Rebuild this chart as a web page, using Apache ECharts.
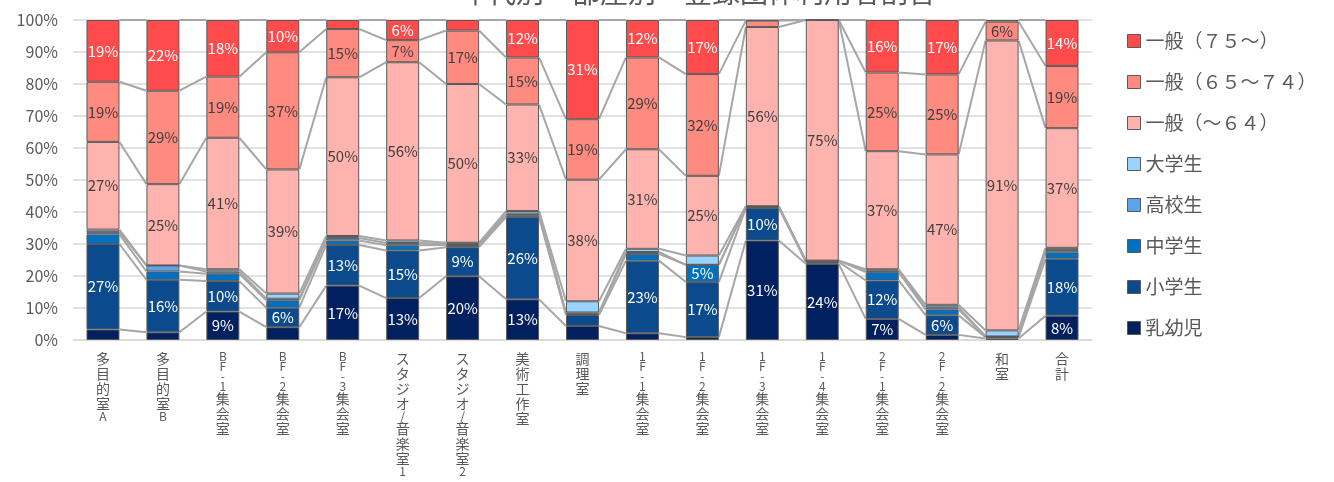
<!DOCTYPE html>
<html>
<head>
<meta charset="utf-8">
<script src="https://cdn.jsdelivr.net/npm/echarts@6/dist/echarts.min.js"></script>
<style>
  html, body { margin: 0; padding: 0; background: #fff; }
  #chart { width: 1334px; height: 482px; }
</style>
</head>
<body>
<div id="chart"></div>
<script>
const categories = ['多目的室A', '多目的室B', 'BF-1集会室', 'BF-2集会室', 'BF-3集会室', 'スタジオ/音楽室1', 'スタジオ/音楽室2', '美術工作室', '調理室', '1F-1集会室', '1F-2集会室', '1F-3集会室', '1F-4集会室', '2F-1集会室', '2F-2集会室', '和室', '合計']

const seriesNames = ['乳幼児', '小学生', '中学生', '高校生', '大学生', '一般（～６４）', '一般（６５～７４）', '一般（７５～）']

// percent per room, bottom of stack first
const infant = [3.3, 2.4, 8.9, 4.0, 17.0, 13.1, 19.9, 12.7, 4.4, 2.1, 0.9, 31.1, 23.8, 6.6, 1.6, 0.5, 7.6]
const elementary = [26.7, 16.4, 9.5, 6.1, 12.7, 14.9, 9.1, 25.7, 3.4, 22.7, 17.2, 10.2, 0.6, 12.0, 6.1, 0.4, 17.8]
const juniorHigh = [3.0, 2.6, 2.3, 2.3, 1.4, 1.6, 0.7, 0.6, 0.4, 2.1, 5.4, 0.3, 0.4, 2.6, 1.8, 0.2, 2.0]
const highSchool = [0.7, 1.9, 0.7, 0.5, 0.8, 0.7, 0.4, 0.5, 0.4, 0.6, 0, 0.1, 0, 0.5, 0.7, 0, 0.7]
const university = [0.8, 0, 0.7, 1.6, 0.6, 0.8, 0.3, 0.8, 3.5, 1.0, 2.9, 0.1, 0, 0.4, 0.8, 1.9, 0.7]
const generalU64 = [27.4, 25.4, 41.1, 38.8, 49.6, 55.7, 49.6, 33.3, 38.0, 31.1, 24.9, 56.0, 75.2, 36.9, 47.0, 90.6, 37.4]
const general6574 = [18.8, 29.2, 19.1, 36.6, 15.1, 6.9, 16.7, 14.7, 18.9, 28.7, 31.8, 2.0, 0, 24.6, 25.0, 5.9, 19.4]
const general75 = [19.3, 22.1, 17.7, 10.1, 2.8, 6.3, 3.3, 11.7, 31.0, 11.7, 16.9, 0.2, 0, 16.4, 17.0, 0.5, 14.4]

const seriesValues = [infant, elementary, juniorHigh, highSchool, university, generalU64, general6574, general75]
const colors = ['#002060', '#0b4a8c', '#0070c0', '#5aa5eb', '#99d3ff', '#ffb3ae', '#ff8a80', '#ff4b4b']
const labelColors = ['#fff', '#fff', '#fff', '#fff', '#404040', '#404040', '#404040', '#fff']
const yTicks = [0, 10, 20, 30, 40, 50, 60, 70, 80, 90, 100]

const font = '"Noto Sans CJK JP", "Noto Sans", sans-serif'
const barRatio = 0.55

// stack the label characters vertically, latin ones tighter
function verticalLabel (name) {
  return name.split('').map(ch => /[A-Za-z0-9\-\/]/.test(ch) ? '{l|' + ch + '}' : '{c|' + ch + '}').join('\n')
}

// gray series lines between neighbouring bars
function renderLinks (params, api) {
  const i = api.value(0)
  const half = api.size([1, 0])[0] * barRatio / 2
  const children = []
  let a = 0
  let b = 0
  seriesValues.forEach(vals => {
    a += vals[i]
    b += vals[i + 1]
    const p1 = api.coord([i, a])
    const p2 = api.coord([i + 1, b])
    children.push({
      type: 'line',
      shape: { x1: p1[0] + half, y1: p1[1], x2: p2[0] - half, y2: p2[1] },
      style: { stroke: '#a6a6a6', lineWidth: 2 }
    })
  })
  return { type: 'group', children }
}

const chart = echarts.init(document.getElementById('chart'))

const barSeries = seriesNames.map((name, k) => ({
  name: name,
  type: 'bar',
  stack: 'total',
  barWidth: (barRatio * 100) + '%',
  itemStyle: {
    color: colors[k],
    borderColor: '#5a5a5a',
    borderWidth: 1
  },
  label: {
    show: true,
    position: 'inside',
    color: labelColors[k],
    fontSize: 15,
    fontFamily: font,
    formatter: p => p.value >= 4.5 ? Math.round(p.value) + '%' : ''
  },
  data: seriesValues[k]
}))

chart.setOption({
  animation: false,
  title: {
    text: '年代別　部屋別　登録団体利用者割合',
    left: 455,
    top: -27,
    textStyle: { fontSize: 28, fontWeight: 'normal', color: '#595959', fontFamily: font }
  },
  legend: {
    data: seriesNames.slice().reverse(),
    orient: 'vertical',
    left: 1122,
    top: 26,
    itemWidth: 13,
    itemHeight: 13,
    itemGap: 21,
    icon: 'rect',
    itemStyle: { borderColor: '#5a5a5a', borderWidth: 1 },
    textStyle: { fontSize: 19, lineHeight: 20, color: '#595959', fontFamily: font }
  },
  grid: {
    left: 73,
    right: 242,
    top: 20,
    bottom: 142
  },
  xAxis: {
    type: 'category',
    data: categories,
    axisTick: { show: false },
    axisLine: { lineStyle: { color: '#d9d9d9', width: 1.5 } },
    axisLabel: {
      interval: 0,
      margin: 11,
      color: '#595959',
      formatter: verticalLabel,
      rich: {
        c: { fontSize: 14, lineHeight: 15, color: '#595959', fontFamily: font },
        l: { fontSize: 12, lineHeight: 10, color: '#595959', fontFamily: font }
      }
    }
  },
  yAxis: {
    type: 'value',
    min: yTicks[0],
    max: yTicks[yTicks.length - 1],
    interval: 10,
    axisLine: { show: false },
    axisTick: { show: false },
    splitLine: { lineStyle: { color: '#d9d9d9', width: 1.5 } },
    axisLabel: {
      margin: 15,
      fontSize: 16,
      color: '#595959',
      fontFamily: font,
      formatter: '{value}%'
    }
  },
  series: barSeries.concat([{
    type: 'custom',
    name: 'links',
    renderItem: renderLinks,
    encode: { x: 0, y: 1 },
    silent: true,
    z: 1,
    data: categories.slice(0, -1).map((c, i) => [i, 0])
  }])
})

window.addEventListener('resize', function () {
  chart.resize()
})
</script>
</body>
</html>
